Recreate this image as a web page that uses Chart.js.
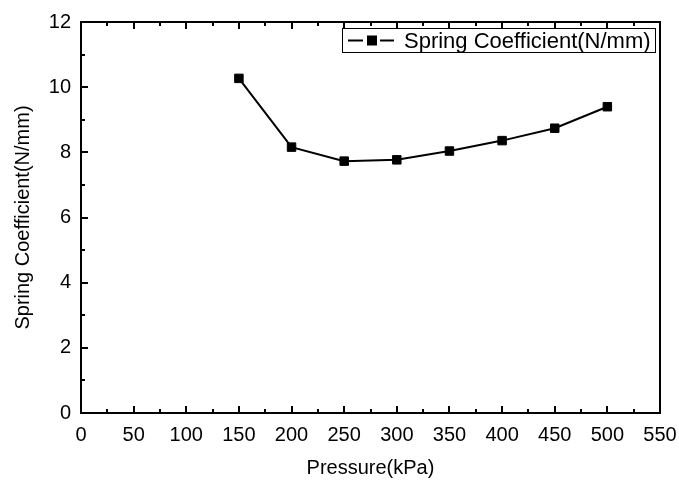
<!DOCTYPE html>
<html>
<head>
<meta charset="utf-8">
<script src="https://cdn.jsdelivr.net/npm/chart.js@4"></script>
<style>
  body { margin: 0; background: #fff; }
  #wrap { width: 679px; height: 483px; }
</style>
</head>
<body>
<div id="wrap"><canvas id="myChart" width="679" height="483"></canvas></div>
<script>
// data
const pressure = [150, 200, 250, 300, 350, 400, 450, 500];
const springCoef = [10.27, 8.16, 7.73, 7.77, 8.04, 8.36, 8.74, 9.40];
const seriesLabel = 'Spring Coefficient(N/mm)';
const xTitle = 'Pressure(kPa)';
const yTitle = 'Spring Coefficient(N/mm)';

const FONT = '"Liberation Sans", Arial, sans-serif';

// Origin style frame: inward ticks on bottom/left/top, plain right edge, boxed legend
const frame = {
    id: 'frame',
    afterDraw(chart) {
        const ctx = chart.ctx;
        const a = chart.chartArea;
        const xs = chart.scales.x;
        const ys = chart.scales.y;
        ctx.save();
        ctx.strokeStyle = '#000';
        ctx.lineWidth = 2;
        ctx.strokeRect(a.left, a.top, a.right - a.left, a.bottom - a.top);

        for (let v = 0; v <= 550; v += 25) {
            const px = Math.round(xs.getPixelForValue(v));
            const len = v % 50 === 0 ? 7 : 4;
            ctx.beginPath();
            ctx.moveTo(px, a.bottom);
            ctx.lineTo(px, a.bottom - len);
            ctx.moveTo(px, a.top);
            ctx.lineTo(px, a.top + len);
            ctx.stroke();
        }
        for (let v = 0; v <= 12; v += 1) {
            const py = Math.round(ys.getPixelForValue(v));
            const len = v % 2 === 0 ? 7 : 4;
            ctx.beginPath();
            ctx.moveTo(a.left, py);
            ctx.lineTo(a.left + len, py);
            ctx.stroke();
        }

        // legend box
        const bx = 342, by = 28, bw = 313, bh = 24;
        ctx.lineWidth = 1;
        ctx.strokeRect(bx + 0.5, by + 0.5, bw, bh);
        const cy = by + bh / 2 + 0.5;
        ctx.lineWidth = 2;
        ctx.beginPath();
        ctx.moveTo(bx + 6, cy);
        ctx.lineTo(bx + 21, cy);
        ctx.moveTo(bx + 38, cy);
        ctx.lineTo(bx + 52, cy);
        ctx.stroke();
        ctx.fillStyle = '#000';
        ctx.fillRect(bx + 25, cy - 5, 10, 10);
        ctx.font = '22px ' + FONT;
        ctx.textBaseline = 'middle';
        ctx.fillText(chart.data.datasets[0].label, bx + 62, cy + 1);
        ctx.restore();
    }
};

const ctx = document.getElementById('myChart').getContext('2d');

new Chart(ctx, {
    type: 'line',
    data: {
        datasets: [{
            label: seriesLabel,
            data: pressure.map((p, i) => ({ x: p, y: springCoef[i] })),
            borderColor: '#000',
            backgroundColor: '#000',
            borderWidth: 2,
            pointStyle: 'rect',
            pointRadius: 6,
            pointBorderWidth: 1,
            pointHoverRadius: 6,
            tension: 0
        }]
    },
    options: {
        responsive: false,
        animation: false,
        layout: { padding: { top: 20, right: 19, left: 0, bottom: 0 } },
        plugins: {
            legend: { display: false },
            tooltip: { enabled: false }
        },
        scales: {
            x: {
                type: 'linear',
                min: 0,
                max: 550,
                afterFit(scale) {
                    scale.height = 70;
                    scale.paddingLeft = 0;
                    scale.paddingRight = 0;
                },
                grid: { display: false, drawTicks: false },
                border: { display: false },
                ticks: {
                    stepSize: 50,
                    padding: 10,
                    color: '#000',
                    maxRotation: 0,
                    font: { family: FONT, size: 20 }
                },
                title: {
                    display: true,
                    text: xTitle,
                    color: '#000',
                    padding: { top: 0, bottom: 3 },
                    font: { family: FONT, size: 20 }
                }
            },
            y: {
                min: 0,
                max: 12,
                afterFit(scale) { scale.width = 81; },
                grid: { display: false, drawTicks: false },
                border: { display: false },
                ticks: {
                    stepSize: 2,
                    padding: 10,
                    color: '#000',
                    font: { family: FONT, size: 20 }
                },
                title: {
                    display: true,
                    text: yTitle,
                    color: '#000',
                    padding: { top: 11, bottom: 0 },
                    font: { family: FONT, size: 20 }
                }
            }
        }
    },
    plugins: [frame]
});
</script>
</body>
</html>
